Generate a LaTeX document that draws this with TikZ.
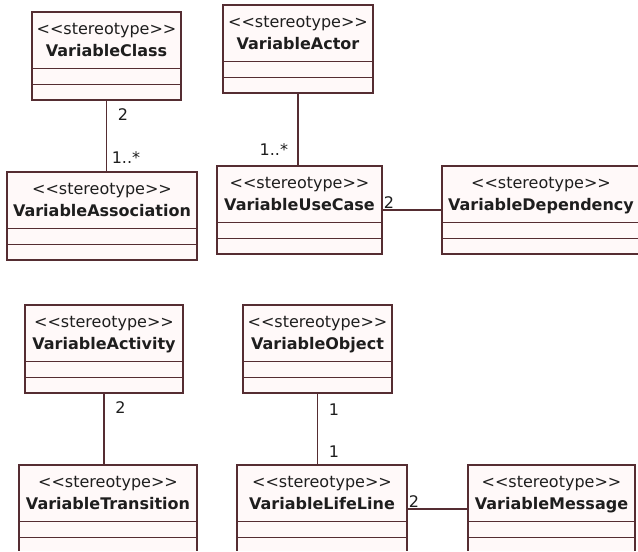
\documentclass[tikz,border=0pt]{standalone}
\usepackage{fontspec}
\setmainfont{DejaVu Sans}
\usetikzlibrary{shapes.multipart}

\definecolor{umlline}{RGB}{85,45,50}
\definecolor{umlfill}{RGB}{255,249,249}
\definecolor{umltext}{RGB}{30,30,30}

\newcommand{\stereo}{\rule{0pt}{16.5pt}<{}<stereotype>{}>}
\newcommand{\umlname}[1]{\textbf{#1}\rule[-8.75pt]{0pt}{0pt}}

\tikzset{
  umlclass/.style={rectangle split, rectangle split parts=3, draw=umlline, fill=umlfill,
    line width=0.9pt, inner xsep=0pt, inner ysep=0pt, outer sep=0pt,
    rectangle split empty part height=10.75pt, rectangle split empty part depth=0pt,
    align=center, anchor=north west, text=umltext, font=\fontsize{12}{16.5}\selectfont},
  assoc/.style={draw=umlline, line width=0.9pt},
  mult/.style={font=\fontsize{12}{14}\selectfont, text=umltext, inner sep=1pt},
}

\begin{document}
\begin{tikzpicture}[x=0.75pt,y=0.75pt,yscale=-1,xscale=1]
        \fill[white] (0,0) rectangle (638,552);
        \useasboundingbox (0,0) rectangle (638,552);
        \clip (0,0) rectangle (638,550);

        % use case part
        \node[umlclass, minimum width=149*0.75pt] (vclass) at (32,12) {\stereo\\\umlname{VariableClass}\nodepart{two}\nodepart{three}};
        \node[umlclass, minimum width=150*0.75pt] (vactor) at (223,5) {\stereo\\\umlname{VariableActor}\nodepart{two}\nodepart{three}};
        \node[umlclass, minimum width=190*0.75pt] (vassoc) at (7,172) {\stereo\\\umlname{VariableAssociation}\nodepart{two}\nodepart{three}};
        \node[umlclass, minimum width=165*0.75pt] (vusecase) at (217,166) {\stereo\\\umlname{VariableUseCase}\nodepart{two}\nodepart{three}};
        \node[umlclass, minimum width=198*0.75pt] (vdepend) at (442,166) {\stereo\\\umlname{VariableDependency}\nodepart{two}\nodepart{three}};

        % activity and sequence part
        \node[umlclass, minimum width=158*0.75pt] (vactivity) at (25,305) {\stereo\\\umlname{VariableActivity}\nodepart{two}\nodepart{three}};
        \node[umlclass, minimum width=149*0.75pt] (vobject) at (243,305) {\stereo\\\umlname{VariableObject}\nodepart{two}\nodepart{three}};
        \node[umlclass, minimum width=178*0.75pt] (vtrans) at (19,465) {\stereo\\\umlname{VariableTransition}\nodepart{two}\nodepart{three}};
        \node[umlclass, minimum width=170*0.75pt] (vlifeline) at (237,465) {\stereo\\\umlname{VariableLifeLine}\nodepart{two}\nodepart{three}};
        \node[umlclass, minimum width=167*0.75pt] (vmessage) at (468,465) {\stereo\\\umlname{VariableMessage}\nodepart{two}\nodepart{three}};

        \draw[assoc] (vclass.south) -- (vclass.south |- vassoc.north)
            node[mult, pos=0.2, right=7pt] (m-class) {2}
            node[mult, pos=0.8, right=2.5pt] (m-assoc) {1..*};
        \draw[assoc] (vactor.south) -- (vactor.south |- vusecase.north)
            node[mult, pos=0.78, left=6pt] (m-usecase) {1..*};
        \draw[assoc] (vusecase.east) -- (vdepend.west)
            node[mult, pos=0, above right] (m-depend) {2};
        \draw[assoc] (vactivity.south) -- (vactivity.south |- vtrans.north)
            node[mult, pos=0.2, right=7pt] (m-activity) {2};
        \draw[assoc] (vobject.south) -- (vobject.south |- vlifeline.north)
            node[mult, pos=0.23, right=7pt] (m-object) {1}
            node[mult, pos=0.82, right=7pt] (m-lifeline) {1};
        \draw[assoc] (vlifeline.east) -- (vmessage.west)
            node[mult, pos=0, above right] (m-message) {2};
    \end{tikzpicture}
\end{document}
